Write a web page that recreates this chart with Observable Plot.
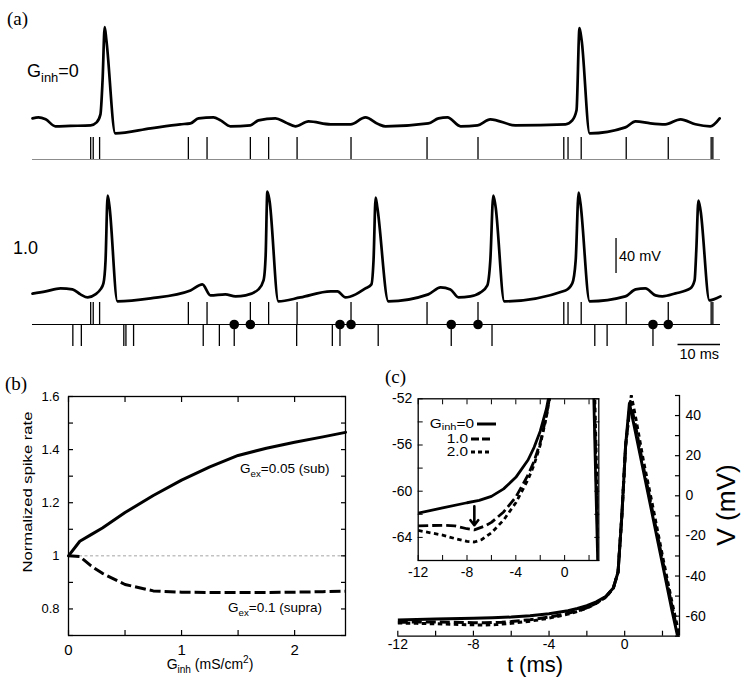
<!DOCTYPE html>
<html><head><meta charset="utf-8">
<script src="https://cdn.jsdelivr.net/npm/d3@7"></script>
<script src="https://cdn.jsdelivr.net/npm/@observablehq/plot@0.6"></script>
<style>
body{margin:0;background:#fff}
#fig{position:relative;width:751px;height:694px;overflow:hidden;background:#fff}
#fig svg{position:absolute;left:0;top:0}
.lbl{position:absolute;white-space:nowrap;line-height:1;color:#000;font-family:"Liberation Sans",Arial,sans-serif}
.serif{font-family:"Liberation Serif","Times New Roman",serif}
.lbl sub{font-size:0.72em;vertical-align:-0.38em;line-height:0}
.lbl sup{font-size:0.72em;vertical-align:0.55em;line-height:0}
.lbl.tight sub{vertical-align:-0.22em}
</style></head>
<body><div id="fig"></div>
<script>
// ---------- DATA ----------
// (a) membrane potential traces, [time ms, V mV]
const traceGinh0 = [[0,-59.3],[1.4,-58.1],[3.1,-60.4],[5.4,-68.4],[8.9,-67.9],[13.7,-67.3],[15.1,-63.9],[16.0,-54.7],[16.5,-15.9],[17.0,44.7],[17.4,29.9],[19.5,-76.4],[27.8,-70.7],[34.8,-66.1],[37.2,-65.0],[39.1,-59.3],[42.6,-58.1],[44.3,-61.6],[46.6,-68.4],[51.3,-67.3],[53.2,-61.6],[57.2,-59.3],[59.6,-63.9],[61.9,-68.4],[65.0,-62.7],[70.2,-66.1],[74.9,-66.1],[78.4,-58.1],[81.5,-66.1],[83.1,-68.4],[93.2,-65.0],[95.6,-59.3],[97.7,-58.1],[100.8,-68.4],[104.8,-67.3],[107.8,-60.4],[113.7,-67.3],[125.5,-66.1],[127.1,-61.6],[128.1,-50.1],[128.8,43.6],[129.3,29.9],[131.2,-76.4],[139.6,-69.6],[142.0,-62.7],[145.5,-65.0],[149.0,-66.1],[152.6,-60.4],[156.1,-66.1],[159.6,-68.4],[161.8,-59.3]];
const traceGinh1 = [[0,-67.6],[3.1,-65.0],[6.6,-61.6],[9.4,-62.7],[11.3,-68.4],[13.0,-71.9],[14.8,-68.4],[16.0,-62.7],[16.7,-55.9],[17.2,-29.6],[17.7,44.7],[18.1,33.3],[20.0,-76.4],[27.8,-73.0],[37.2,-63.9],[40.0,-57.0],[41.9,-69.6],[45.4,-68.4],[47.8,-70.7],[50.2,-69.6],[53.2,-62.7],[54.4,-52.4],[54.9,-23.9],[55.3,49.3],[55.8,39.0],[57.9,-76.4],[63.1,-71.9],[70.2,-65.0],[71.8,-65.0],[73.7,-71.9],[76.1,-68.4],[78.4,-61.6],[79.8,-57.0],[80.3,-29.6],[80.8,42.4],[81.2,31.0],[83.8,-76.4],[93.2,-68.4],[96.1,-60.4],[98.4,-62.7],[100.3,-71.9],[103.1,-70.7],[105.5,-66.1],[107.1,-58.1],[107.8,-29.6],[108.5,44.7],[109.0,33.3],[111.1,-76.4],[125.5,-63.9],[127.1,-55.9],[127.9,-29.6],[128.6,48.1],[129.0,36.7],[131.2,-76.4],[139.6,-70.7],[142.0,-62.7],[144.3,-61.6],[146.7,-69.6],[148.3,-70.7],[151.4,-67.3],[154.9,-61.6],[155.9,-52.4],[156.3,-18.1],[156.8,39.0],[157.3,27.6],[159.4,-75.3],[160.4,-74.1],[162.0,-70.7]];
// synaptic input times (ms)
const excInputs = [13.7,14.3,15.8,36.7,41.1,51.3,55.6,62.3,75.0,92.9,104.9,125.1,126.1,129.2,139.8,149.7,159.8,160.2];
const inhInputs = [9.5,11.5,21.5,22.0,23.8,40.2,44.0,47.5,62.2,70.6,72.4,81.4,98.6,108.2,132.4,135.3,146.1];
const pairedExc = [51.3,75.0,104.9,149.7];
const pairedInh = [47.5,72.4,98.6,146.1];
const voltBar = [{t:137.4, from:-44.5, mV:40}];
const timeBar = [{end:162, ms:10, level:-0.91}];

// (b) normalized spike rate vs Ginh
const gInh      = [0, 0.1, 0.2, 0.3, 0.5, 0.75, 1.0, 1.25, 1.5, 1.75, 2.0, 2.25, 2.45];
const rateSub   = [1.0, 1.055, 1.08, 1.105, 1.163, 1.227, 1.285, 1.335, 1.378, 1.405, 1.428, 1.448, 1.465];
const rateSupra = [1.0, 0.997, 0.962, 0.934, 0.892, 0.868, 0.863, 0.862, 0.862, 0.862, 0.863, 0.865, 0.867];

// (c) spike-triggered average V, [t ms, V mV]
const staG0 = [[-12,-61.9],[-10,-61.45],[-8,-61.0],[-7,-60.8],[-6,-60.45],[-5,-59.8],[-4,-58.8],[-3,-57.3],[-2.5,-56.2],[-2,-54.8],[-1.5,-52.9],[-1.0,-50.2],[-0.6,-46],[-0.35,-38],[-0.15,-10],[0.05,25],[0.25,46],[0.5,35],[1.0,12],[1.5,-11],[2.0,-34],[2.5,-57],[2.8,-70]];
const staG1 = [[-12,-63.0],[-10,-62.95],[-9,-63.0],[-8,-63.25],[-7.4,-63.35],[-6.5,-63.0],[-6,-62.7],[-5,-61.8],[-4,-60.5],[-3,-58.6],[-2.5,-57.4],[-2,-55.8],[-1.5,-53.5],[-1.0,-50.5],[-0.6,-46],[-0.35,-38],[-0.15,-10],[0.05,25],[0.3,47],[0.55,36],[1.0,14],[1.5,-9],[2.0,-32],[2.5,-55],[2.85,-70]];
const staG2 = [[-12,-63.4],[-11,-63.6],[-10,-63.8],[-9,-64.1],[-8,-64.35],[-7.4,-64.4],[-6.8,-64.2],[-6,-63.6],[-5,-62.5],[-4,-61.0],[-3,-59.0],[-2.5,-57.7],[-2,-56.0],[-1.5,-53.6],[-1.0,-50.6],[-0.6,-46],[-0.35,-38],[-0.15,-10],[0.05,25],[0.35,50],[0.6,38],[1.0,17],[1.5,-6],[2.0,-30],[2.5,-53],[2.9,-70]];
const inhArrow = [{t:-7.4, from:-61.3, to:-62.95}];

// ---------- HELPERS ----------
const fig = document.getElementById("fig");
const W = 751, H = 694;
const FONT = '"Liberation Sans", Arial, sans-serif';
const base = (fs) => ({width: W, height: H, style: {background: "transparent", overflow: "visible", fontFamily: FONT, fontSize: fs + "px", color: "black"}});
const box = (l, t, r, b) => ({marginLeft: l, marginTop: t, marginRight: W - r, marginBottom: H - b});
const pts = (a) => a.map(([t, v]) => ({t, v}));
const add = (svg) => fig.appendChild(svg);
const fmt = (d) => String(+d.toFixed(2));
const none = () => "";
function lab(html, x, y, {size = 14, serif = false, anchor = "start", rotate = 0, sx = 1, cls = ""} = {}) {
  const d = document.createElement("div");
  d.className = "lbl" + (serif ? " serif" : "") + (cls ? " " + cls : "");
  d.innerHTML = html;
  const tx = anchor === "middle" ? "-50%" : anchor === "end" ? "-100%" : "0";
  d.style.left = x + "px"; d.style.top = y + "px"; d.style.fontSize = size + "px";
  d.style.transformOrigin = anchor === "middle" ? "50% 50%" : anchor === "end" ? "100% 50%" : "0 50%";
  d.style.transform = `translate(${tx},-50%)` + (rotate ? ` rotate(${rotate}deg)` : "") + (sx !== 1 ? ` scaleX(${sx})` : "");
  fig.appendChild(d);
}

// ---------- PANEL (a) ----------
const xA = {domain: [0, 162], axis: null};
add(Plot.plot({...base(14), ...box(32, 22, 720, 136), x: xA, y: {domain: [-80, 50], axis: null},
  marks: [Plot.line(pts(traceGinh0), {x: "t", y: "v", stroke: "black", strokeWidth: 2.7, curve: "monotone-x"})]}));
add(Plot.plot({...base(14), ...box(32, 137, 720, 181), x: xA, y: {domain: [-1, 1], axis: null},
  marks: [
    Plot.ruleY([0], {stroke: "#8c8c8c", strokeWidth: 1.2}),
    Plot.ruleX(excInputs, {y1: 0, y2: 1, stroke: "black", strokeWidth: 1.3})
  ]}));
add(Plot.plot({...base(14), ...box(32, 186, 720, 304), x: xA, y: {domain: [-80, 55], axis: null},
  marks: [
    Plot.line(pts(traceGinh1), {x: "t", y: "v", stroke: "black", strokeWidth: 2.7, curve: "monotone-x"}),
    Plot.ruleX(voltBar, {x: "t", y1: "from", y2: d => d.from + d.mV, stroke: "black", strokeWidth: 1.3}),
    Plot.text(voltBar, {x: "t", y: d => d.from + d.mV / 2, text: d => d.mV + " mV", textAnchor: "start", dx: 3, fontSize: 14.5})
  ]}));
add(Plot.plot({...base(14), ...box(32, 302, 720, 346), x: xA, y: {domain: [-1, 1], axis: null},
  marks: [
    Plot.ruleY([0], {stroke: "black", strokeWidth: 1.1}),
    Plot.ruleX(excInputs, {y1: 0, y2: 1, stroke: "black", strokeWidth: 1.3}),
    Plot.ruleX(inhInputs, {y1: 0, y2: -1, stroke: "black", strokeWidth: 1.3}),
    Plot.dot(pairedExc, {x: d => d, y: 0, r: 4.8, fill: "black"}),
    Plot.dot(pairedInh, {x: d => d, y: 0, r: 4.8, fill: "black"}),
    Plot.ruleY(timeBar, {y: "level", x1: d => d.end - d.ms, x2: "end", stroke: "black", strokeWidth: 1.3}),
    Plot.text(timeBar, {x: d => d.end - d.ms / 2, y: "level", text: d => d.ms + " ms", lineAnchor: "top", dy: 4, fontSize: 14.5})
  ]}));

// ---------- PANEL (b) ----------
const subData = gInh.map((g, i) => ({g, r: rateSub[i]}));
const supraData = gInh.map((g, i) => ({g, r: rateSupra[i]}));
const yTicksB = d3.range(7, 17).map(d => d / 10);
const xTicksB = [0, 0.5, 1, 1.5, 2];
add(Plot.plot({...base(13), ...box(68, 396, 345, 635),
  x: {domain: [0, 2.45]}, y: {domain: [0.7, 1.6]},
  marks: [
    Plot.ruleY([1], {stroke: "#999", strokeWidth: 0.9, strokeDasharray: "3,2.5"}),
    Plot.line(subData, {x: "g", y: "r", stroke: "black", strokeWidth: 3}),
    Plot.line(supraData, {x: "g", y: "r", stroke: "black", strokeWidth: 3, strokeDasharray: "11,4", strokeLinecap: "butt"}),
    Plot.frame({stroke: "black", strokeWidth: 1.3}),
    Plot.axisY(yTicksB, {anchor: "left", tickSize: 5, dx: 5, tickFormat: none, label: null, strokeWidth: 1.2}),
    Plot.axisY(yTicksB, {anchor: "right", tickSize: 5, dx: -5, tickFormat: none, label: null, strokeWidth: 1.2}),
    Plot.axisX(xTicksB, {anchor: "top", tickSize: 5, dy: 5, tickFormat: none, label: null, strokeWidth: 1.2}),
    Plot.axisX(xTicksB, {anchor: "bottom", tickSize: 5, dy: -5, tickFormat: none, label: null, strokeWidth: 1.2}),
    Plot.axisY([0.8, 1, 1.2, 1.4, 1.6], {anchor: "left", tickSize: 0, tickPadding: 9, tickFormat: fmt, label: null, fontSize: 13}),
    Plot.axisX([0, 1, 2], {anchor: "bottom", tickSize: 0, tickPadding: 9, tickFormat: fmt, label: null, fontSize: 15})
  ]}));

// ---------- PANEL (c) main ----------
const sta = [
  {data: pts(staG0), dash: null},
  {data: pts(staG1), dash: "10,4"},
  {data: pts(staG2), dash: "4.5,3.5"}
];
add(Plot.plot({...base(14), ...box(397.3, 395, 679, 635.7),
  x: {domain: [-12, 2.9]}, y: {domain: [-70, 50]},
  marks: [
    ...sta.map(s => Plot.line(s.data, {x: "t", y: "v", stroke: "black", strokeWidth: 3, strokeDasharray: s.dash, strokeLinecap: "butt", clip: true})),
    Plot.ruleY([-70], {stroke: "black", strokeWidth: 1.3}),
    Plot.ruleX([2.9], {stroke: "black", strokeWidth: 1.3}),
    Plot.axisX(d3.range(-12, 3, 2), {anchor: "bottom", tickSize: 5, dy: -5, tickFormat: none, label: null, strokeWidth: 1.2}),
    Plot.axisY(d3.range(-70, 51, 10), {anchor: "right", tickSize: 5, dx: -5, tickFormat: none, label: null, strokeWidth: 1.2}),
    Plot.axisX([-12, -8, -4, 0], {anchor: "bottom", tickSize: 0, tickPadding: 3, tickFormat: fmt, label: null}),
    Plot.axisY([-60, -40, -20, 0, 20, 40], {anchor: "right", tickSize: 0, tickPadding: 6, tickFormat: fmt, label: null})
  ]}));

// ---------- PANEL (c) inset ----------
add(Plot.plot({...base(14), ...box(417.7, 398.3, 598.3, 560),
  x: {domain: [-12, 2.8]}, y: {domain: [-66, -52]},
  marks: [
    Plot.frame({fill: "white"}),
    ...sta.map(s => Plot.line(s.data, {x: "t", y: "v", stroke: "black", strokeWidth: 2.8, strokeDasharray: s.dash, strokeLinecap: "butt", clip: true})),
    Plot.arrow(inhArrow, {x1: "t", x2: "t", y1: "from", y2: "to", stroke: "black", strokeWidth: 2.6, headLength: 8, headAngle: 75}),
    Plot.frame({stroke: "black", strokeWidth: 1.3}),
    Plot.axisX(d3.range(-12, 3, 2), {anchor: "bottom", tickSize: 5, dy: -5, tickFormat: none, label: null}),
    Plot.axisX(d3.range(-12, 3, 2), {anchor: "top", tickSize: 5, dy: 5, tickFormat: none, label: null}),
    Plot.axisY(d3.range(-66, -51, 2), {anchor: "left", tickSize: 5, dx: 5, tickFormat: none, label: null}),
    Plot.axisY(d3.range(-66, -51, 2), {anchor: "right", tickSize: 5, dx: -5, tickFormat: none, label: null}),
    Plot.axisX([-12, -8, -4, 0], {anchor: "bottom", tickSize: 0, tickPadding: 7, tickFormat: fmt, label: null}),
    Plot.axisY([-64, -60, -56, -52], {anchor: "left", tickSize: 0, tickPadding: 6, tickFormat: fmt, label: null})
  ]}));

// inset legend
const legendRows = [
  {html: "G<sub>inh</sub>=0", right: 474, y: 423.5, dash: null},
  {html: "1.0", right: 468, y: 439, dash: "8,3"},
  {html: "2.0", right: 468, y: 452, dash: "4,3"}
];
legendRows.forEach(r => {
  lab(r.html, r.right, r.y, {size: 12, anchor: "end", sx: 1.28, cls: "tight"});
  const s = d3.create("svg").attr("width", 20).attr("height", 6)
    .style("left", (r.right + 2.5) + "px").style("top", (r.y - 3) + "px");
  s.append("line").attr("x1", 0).attr("x2", 19).attr("y1", 3).attr("y2", 3)
    .attr("stroke", "black").attr("stroke-width", 3).attr("stroke-dasharray", r.dash);
  fig.appendChild(s.node());
});

// ---------- TEXT LABELS ----------
lab("(a)", 7, 17.5, {size: 19, serif: true});
lab("G<sub>inh</sub>=0", 27, 70.6, {size: 18});
lab("1.0", 13, 247.6, {size: 18});
lab("(b)", 5, 382.5, {size: 19, serif: true});
lab("Normalized spike rate", 27, 492, {size: 13, anchor: "middle", rotate: -90, sx: 1.28});
lab("G<sub>inh</sub> (mS/cm<sup>2</sup>)", 210, 664, {size: 14, anchor: "middle"});
lab("G<sub>ex</sub>=0.05 (sub)", 240, 469, {size: 13.5});
lab("G<sub>ex</sub>=0.1 (supra)", 228, 607.5, {size: 13.5});
lab("(c)", 385, 376, {size: 19, serif: true});
lab("V (mV)", 726, 505, {size: 25, anchor: "middle", rotate: -90, sx: 1.05});
lab("t (ms)", 535, 665, {size: 22, anchor: "middle"});
</script>
</body></html>
